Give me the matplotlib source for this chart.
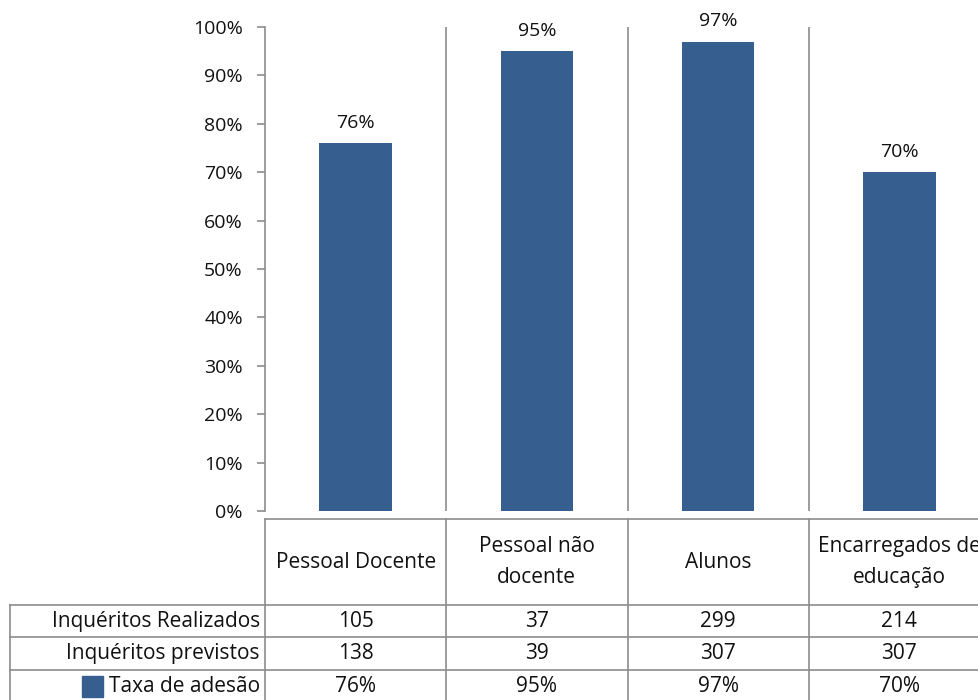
import matplotlib
matplotlib.use("Agg")
import matplotlib.pyplot as plt
from matplotlib.patches import Rectangle

plt.rcParams['font.family'] = ['Open Sans', 'DejaVu Sans']

categories = ['Pessoal Docente', 'Pessoal não\ndocente', 'Alunos', 'Encarregados de\neducação']
realizados = [105, 37, 299, 214]
previstos = [138, 39, 307, 307]
taxa = [76, 95, 97, 70]
row_labels = ['Inquéritos Realizados', 'Inquéritos previstos', 'Taxa de adesão']

bar_color = '#365f8f'
grid_color = '#8c8c8c'
text_color = '#111111'
fs = 15

W, H = 979, 700
fig = plt.figure(figsize=(W / 100, H / 100), dpi=100)

# main axes (right edge runs past the figure, as in the reference)
left, right, top, bottom = 265, 990, 27, 511
ax = fig.add_axes([left / W, 1 - bottom / H, (right - left) / W, (bottom - top) / H])
x = list(range(len(categories)))
ax.bar(x, taxa, width=0.4, color=bar_color, zorder=3)
for xi, v in zip(x, taxa):
    ax.text(xi, v + 2.4, f'{v}%', ha='center', va='bottom', fontsize=14, color=text_color)

ax.set_xlim(-0.5, len(categories) - 0.5)
ax.set_ylim(0, 100)
ax.set_yticks(range(0, 101, 10))
ax.set_yticklabels([f'{t}%' for t in range(0, 101, 10)], fontsize=14, color=text_color)
ax.set_xticks([])
for s in ['top', 'right', 'bottom']:
    ax.spines[s].set_visible(False)
ax.spines['left'].set_color(grid_color)
ax.spines['left'].set_linewidth(1.2)
ax.tick_params(axis='y', length=6, width=1.2, color=grid_color, pad=10)
for b in [0.5, 1.5, 2.5]:
    ax.axvline(b, color=grid_color, lw=1.2, zorder=1)

# data table below the chart, y in pixels from top
tab = fig.add_axes([left / W, 0, (right - left) / W, 1 - bottom / H])
tab.set_xlim(-0.5, len(categories) - 0.5)
tab.set_ylim(H, bottom)
tab.axis('off')
px = (right - left) / len(categories)
x_far = -0.5 - (left - 10) / px
lk = dict(color=grid_color, lw=1.2, clip_on=False)

row_edges = [519, 605, 637, 670, 702]
tab.plot([-0.5, 3.5], [row_edges[0]] * 2, **lk)
for y in row_edges[1:]:
    tab.plot([x_far, 3.5], [y, y], **lk)
for b in [-0.5, 0.5, 1.5, 2.5]:
    tab.plot([b, b], [row_edges[0], row_edges[-1]], **lk)
tab.plot([x_far, x_far], [row_edges[1], row_edges[-1]], **lk)

for xi, c in zip(x, categories):
    tab.text(xi, (row_edges[0] + row_edges[1]) / 2, c, ha='center', va='center',
             fontsize=fs, color=text_color, linespacing=1.65, clip_on=False)

rows = [[str(v) for v in realizados], [str(v) for v in previstos], [f'{v}%' for v in taxa]]
label_x = -0.5 - 5 / px
last = None
for r, (lab, vals) in enumerate(zip(row_labels, rows)):
    yc = (row_edges[r + 1] + row_edges[r + 2]) / 2
    last = tab.text(label_x, yc, lab, ha='right', va='center', fontsize=fs,
                    color=text_color, clip_on=False)
    for xi, v in zip(x, vals):
        tab.text(xi, yc, v, ha='center', va='center', fontsize=fs, color=text_color, clip_on=False)

# legend key just left of the last row label
fig.canvas.draw()
bb = last.get_window_extent()
sq = 21
x0 = tab.transData.inverted().transform((bb.x0 - 6 - sq, 0))[0]
tab.add_patch(Rectangle((x0, 697), sq / px, -sq, color=bar_color, clip_on=False))

fig.savefig('out.png', dpi=100)
